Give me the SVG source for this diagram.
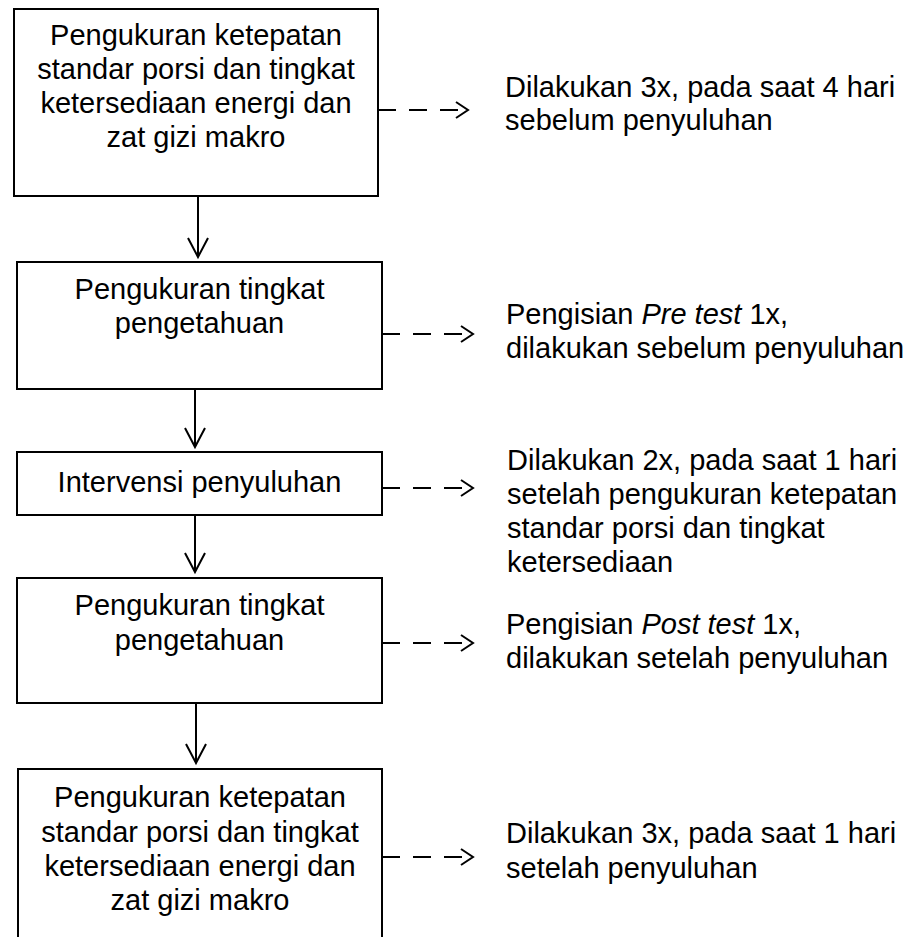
<svg xmlns="http://www.w3.org/2000/svg" width="913" height="937" viewBox="0 0 913 937">
<style>
.box{fill:#fff;stroke:#000;stroke-width:2}
.t{font-family:"Liberation Sans",Arial,sans-serif;font-size:29px;fill:#000;text-anchor:middle}
.s{font-family:"Liberation Sans",Arial,sans-serif;font-size:29px;fill:#000}
.v{stroke:#000;stroke-width:2;fill:none;marker-end:url(#av)}
.d{stroke:#000;stroke-width:2;fill:none;stroke-dasharray:18 13;marker-end:url(#ah)}
</style>
<defs>
<marker id="av" markerUnits="userSpaceOnUse" markerWidth="30" markerHeight="30" viewBox="-25 -15 30 30" refX="0" refY="0" orient="auto" overflow="visible">
<path d="M-19,-10 L0,0 L-19,10" fill="none" stroke="#000" stroke-width="2"/>
</marker>
<marker id="ah" markerUnits="userSpaceOnUse" markerWidth="30" markerHeight="30" viewBox="-25 -15 30 30" refX="0" refY="0" orient="auto" overflow="visible">
<path d="M-12,-8 L0,0 L-12,8" fill="none" stroke="#000" stroke-width="2"/>
</marker>
</defs>
<g id="connectors">
<path class="v" d="M198,196 V257"/>
<path class="v" d="M195,389 V447"/>
<path class="v" d="M195,515 V572"/>
<path class="v" d="M196,703 V763"/>
<path class="d" d="M378,110 H468"/>
<path class="d" d="M382,334 H473"/>
<path class="d" d="M382,488 H473"/>
<path class="d" d="M382,643 H473"/>
<path class="d" d="M382,857 H473"/>
</g>
<g id="node1">
<rect class="box" x="14" y="9" width="364" height="187"/>
<text class="t" x="196" y="45">Pengukuran ketepatan</text>
<text class="t" x="196" y="79">standar porsi dan tingkat</text>
<text class="t" x="196" y="113">ketersediaan energi dan</text>
<text class="t" x="196" y="147">zat gizi makro</text>
</g>
<g id="node2">
<rect class="box" x="17" y="262" width="365" height="127"/>
<text class="t" x="199.5" y="299">Pengukuran tingkat</text>
<text class="t" x="199.5" y="333">pengetahuan</text>
</g>
<g id="node3">
<rect class="box" x="17" y="452" width="365" height="63"/>
<text class="t" x="199.5" y="492">Intervensi penyuluhan</text>
</g>
<g id="node4">
<rect class="box" x="17" y="578" width="365" height="125"/>
<text class="t" x="199.5" y="615">Pengukuran tingkat</text>
<text class="t" x="199.5" y="650">pengetahuan</text>
</g>
<g id="node5">
<rect class="box" x="18" y="769" width="364" height="200"/>
<text class="t" x="200" y="807">Pengukuran ketepatan</text>
<text class="t" x="200" y="842">standar porsi dan tingkat</text>
<text class="t" x="200" y="876">ketersediaan energi dan</text>
<text class="t" x="200" y="910">zat gizi makro</text>
</g>
<g id="note1">
<text class="s" x="505" y="97">Dilakukan 3x, pada saat 4 hari</text>
<text class="s" x="505" y="130">sebelum penyuluhan</text>
</g>
<g id="note2">
<text class="s" x="506" y="324">Pengisian <tspan font-style="italic">Pre test</tspan> 1x,</text>
<text class="s" x="506" y="358">dilakukan sebelum penyuluhan</text>
</g>
<g id="note3">
<text class="s" x="507" y="470">Dilakukan 2x, pada saat 1 hari</text>
<text class="s" x="507" y="504">setelah pengukuran ketepatan</text>
<text class="s" x="507" y="538">standar porsi dan tingkat</text>
<text class="s" x="507" y="572">ketersediaan</text>
</g>
<g id="note4">
<text class="s" x="506" y="634">Pengisian <tspan font-style="italic">Post test</tspan> 1x,</text>
<text class="s" x="506" y="668">dilakukan setelah penyuluhan</text>
</g>
<g id="note5">
<text class="s" x="506" y="843">Dilakukan 3x, pada saat 1 hari</text>
<text class="s" x="506" y="878">setelah penyuluhan</text>
</g>
</svg>
